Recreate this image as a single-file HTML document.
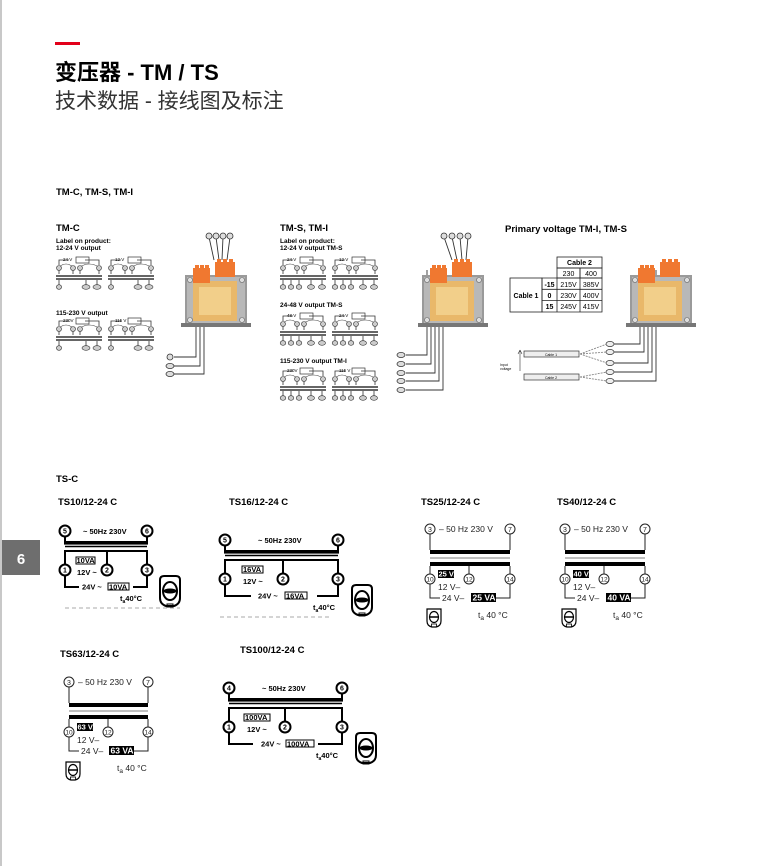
<!DOCTYPE html>
<html><head><meta charset="utf-8"><style>
html,body{margin:0;padding:0;background:#fff;}
svg{display:block;}
text{font-family:"Liberation Sans","Noto Sans CJK SC",sans-serif;}
</style></head><body>
<svg width="759" height="866" viewBox="0 0 759 866" xmlns="http://www.w3.org/2000/svg">
<defs>
<g id="xf">
 <!-- transformer photo, origin = body top-left (185,275) -->
 <rect x="0" y="0" width="62" height="50" fill="#9a9a9a"/>
 <rect x="2" y="2" width="58" height="46" fill="#b8b8b8"/>
 <rect x="8" y="6" width="44" height="40" fill="#e9b86a"/>
 <rect x="14" y="12" width="32" height="28" fill="#f2cf8a"/>
 <rect x="-4" y="48" width="70" height="4" fill="#777"/>
 <circle cx="5" cy="5" r="2.5" fill="#ddd" stroke="#666" stroke-width=".6"/>
 <circle cx="57" cy="5" r="2.5" fill="#ddd" stroke="#666" stroke-width=".6"/>
 <circle cx="5" cy="45" r="2.5" fill="#ddd" stroke="#666" stroke-width=".6"/>
 <circle cx="57" cy="45" r="2.5" fill="#ddd" stroke="#666" stroke-width=".6"/>
 <rect x="8" y="-7" width="17" height="15" fill="#f07830"/>
 <rect x="10" y="-10" width="4" height="5" fill="#f07830"/>
 <rect x="15" y="-10" width="4" height="5" fill="#f07830"/>
 <rect x="20" y="-10" width="4" height="5" fill="#f07830"/>
 <rect x="30" y="-13" width="20" height="15" fill="#f07830"/>
 <rect x="32" y="-16" width="4" height="5" fill="#f07830"/>
 <rect x="38" y="-16" width="4" height="5" fill="#f07830"/>
 <rect x="44" y="-16" width="4" height="5" fill="#f07830"/>
</g>
<g id="sd" fill="none" stroke="#333" stroke-width=".8">
 <!-- small label diagram, 46 wide -->
 <path d="M3 10V5H13M29 5H43V10"/>
 <rect x="20" y="2" width="13" height="6" stroke-width=".7"/>
 <path d="M3 12Q10 6 17 12M24 12Q33 6 43 12" stroke-width=".6"/>
 <g fill="#ccc" stroke-width=".6"><circle cx="3" cy="13" r="2.5"/><circle cx="17" cy="13" r="2.5"/><circle cx="24" cy="13" r="2.5"/><circle cx="43" cy="13" r="2.5"/>
 <ellipse cx="3" cy="32" rx="2.6" ry="2.3"/><ellipse cx="30" cy="32" rx="4" ry="2.3"/><ellipse cx="41" cy="32" rx="4" ry="2.3"/></g>
 <path d="M3 15.5V19M43 15.5V19M17 15.5V19M24 15.5V19"/>
 <path d="M0 21H46M0 24H46" stroke-width="1.6"/>
 <path d="M3 25V29.5M30 25V29.5M41 25V29.5"/>
</g>
<g id="sd5" fill="none" stroke="#333" stroke-width=".8">
 <path d="M3 10V5H13M29 5H43V10"/>
 <rect x="20" y="2" width="13" height="6" stroke-width=".7"/>
 <path d="M3 12Q10 6 17 12M24 12Q33 6 43 12" stroke-width=".6"/>
 <g fill="#ccc" stroke-width=".6"><circle cx="3" cy="13" r="2.5"/><circle cx="17" cy="13" r="2.5"/><circle cx="24" cy="13" r="2.5"/><circle cx="43" cy="13" r="2.5"/>
 <ellipse cx="3" cy="32" rx="2.8" ry="2.3"/><ellipse cx="11" cy="32" rx="2.8" ry="2.3"/><ellipse cx="19" cy="32" rx="2.8" ry="2.3"/><ellipse cx="31" cy="32" rx="3.5" ry="2.3"/><ellipse cx="42" cy="32" rx="3.5" ry="2.3"/></g>
 <path d="M3 15.5V19M43 15.5V19M17 15.5V19M24 15.5V19"/>
 <path d="M0 21H46M0 24H46" stroke-width="1.6"/>
 <path d="M3 25V29.5M11 25V29.5M19 25V29.5M31 25V29.5M42 25V29.5"/>
</g>
<g id="icoA" fill="none" stroke="#000">
 <path d="M2 4Q2 0 6 0H18Q22 0 22 4V22Q22 28 16 30H8Q2 28 2 22Z" stroke-width="2"/>
 <ellipse cx="12" cy="15" rx="7" ry="9" stroke-width="2"/>
 <ellipse cx="12" cy="15" rx="6" ry="2" fill="#000"/>
 <rect x="9" y="28" width="6" height="3" stroke-width="1"/>
</g>
<g id="icoB" fill="none" stroke="#000" stroke-width="1.2">
 <path d="M1 2H15V14Q15 19 10 20H6Q1 19 1 14Z"/>
 <ellipse cx="8" cy="10" rx="4.5" ry="5.5"/>
 <path d="M3 10H13" stroke-width="1.5"/>
 <rect x="5.5" y="17" width="5" height="3" stroke-width=".8"/>
</g>
</defs>

<!-- page chrome -->
<rect x="0" y="0" width="2" height="866" fill="#c8c8c8"/>
<rect x="2" y="540" width="38" height="35" fill="#6e6e6e"/>
<text x="21" y="564" font-size="15" font-weight="bold" fill="#fff" text-anchor="middle">6</text>
<rect x="55" y="42" width="25" height="3" fill="#e2001a"/>
<text x="55" y="80" font-size="22" font-weight="bold" fill="#000">变压器 - TM / TS</text>
<text x="55" y="108" font-size="21" fill="#333">技术数据 - 接线图及标注</text>

<text x="56" y="195" font-size="9.5" font-weight="bold">TM-C, TM-S, TM-I</text>
<text x="56" y="231" font-size="9.5" font-weight="bold">TM-C</text>
<text x="56" y="243" font-size="6.5" font-weight="bold">Label on product:</text>
<text x="56" y="250" font-size="6.5" font-weight="bold">12-24 V output</text>
<use href="#sd" x="56" y="255"/><use href="#sd" x="108" y="255"/>
<text x="63" y="261" font-size="4.5">24 V</text><text x="115" y="261" font-size="4.5">12 V</text>
<text x="56" y="315" font-size="6.5" font-weight="bold">115-230 V output</text>
<use href="#sd" x="56" y="316"/><use href="#sd" x="108" y="316"/>
<text x="63" y="322" font-size="4.5">230V</text><text x="115" y="322" font-size="4.5">115 V</text>

<!-- TM-C photo + wires -->
<g fill="none" stroke="#333" stroke-width=".9">
 <path d="M209 237L214 260M216 237L219 260M223 237L222 260M230 237L227 260"/>
 <path d="M196 270V357H174M200 270V366H174M204 270V374H174"/>
</g>
<use href="#xf" x="185" y="275"/>
<g fill="#ddd" stroke="#333" stroke-width=".8">
 <circle cx="209" cy="236" r="3"/><circle cx="216" cy="236" r="3"/><circle cx="223" cy="236" r="3"/><circle cx="230" cy="236" r="3"/>
 <circle cx="170" cy="357" r="3"/><ellipse cx="170" cy="366" rx="4" ry="2.6"/><ellipse cx="170" cy="374" rx="4" ry="2.6"/>
</g>

<text x="280" y="231" font-size="9.5" font-weight="bold">TM-S, TM-I</text>
<text x="280" y="243" font-size="6.5" font-weight="bold">Label on product:</text>
<text x="280" y="250" font-size="6.5" font-weight="bold">12-24 V output TM-S</text>
<use href="#sd5" x="280" y="255"/><use href="#sd5" x="332" y="255"/>
<text x="287" y="261" font-size="4.5">24 V</text><text x="339" y="261" font-size="4.5">12 V</text>
<text x="280" y="307" font-size="6.5" font-weight="bold">24-48 V output TM-S</text>
<use href="#sd5" x="280" y="311"/><use href="#sd5" x="332" y="311"/>
<text x="287" y="317" font-size="4.5">48 V</text><text x="339" y="317" font-size="4.5">24 V</text>
<text x="280" y="363" font-size="6.5" font-weight="bold">115-230 V output TM-I</text>
<use href="#sd5" x="280" y="366"/><use href="#sd5" x="332" y="366"/>
<text x="287" y="372" font-size="4.5">230V</text><text x="339" y="372" font-size="4.5">115 V</text>

<g fill="none" stroke="#333" stroke-width=".9">
 <path d="M444 237L452 260M452 237L457 260M460 237L462 260M468 237L466 260"/>
 <path d="M427 270V355H406M431 270V364H406M435 270V373H406M439 270V381H406M443 270V390H406"/>
</g>
<use href="#xf" x="422" y="275"/>
<g fill="#ddd" stroke="#333" stroke-width=".8">
 <circle cx="444" cy="236" r="3"/><circle cx="452" cy="236" r="3"/><circle cx="460" cy="236" r="3"/><circle cx="468" cy="236" r="3"/>
 <ellipse cx="401" cy="355" rx="4" ry="2.6"/><ellipse cx="401" cy="364" rx="4" ry="2.6"/><ellipse cx="401" cy="373" rx="4" ry="2.6"/><ellipse cx="401" cy="381" rx="4" ry="2.6"/><ellipse cx="401" cy="390" rx="4" ry="2.6"/>
</g>

<!-- Primary voltage -->
<text x="505" y="232" font-size="9.5" font-weight="bold">Primary voltage TM-I, TM-S</text>
<g fill="none" stroke="#222" stroke-width=".8">
 <rect x="557" y="257" width="45" height="11"/>
 <rect x="557" y="268" width="23" height="10"/><rect x="580" y="268" width="22" height="10"/>
 <rect x="510" y="278" width="32" height="34"/>
 <path d="M542 278H602V312H542ZM542 289.3H602M542 300.6H602M557 278V312M580 278V312"/>
</g>
<g font-size="7" text-anchor="middle">
 <text x="579.5" y="265" font-weight="bold">Cable 2</text>
 <text x="568.5" y="276">230</text><text x="591" y="276">400</text>
 <text x="526" y="298" font-weight="bold">Cable 1</text>
 <text x="549.5" y="287" font-weight="bold">-15</text><text x="549.5" y="298" font-weight="bold">0</text><text x="549.5" y="309" font-weight="bold">15</text>
 <text x="568.5" y="287">215V</text><text x="591" y="287">385V</text>
 <text x="568.5" y="298">230V</text><text x="591" y="298">400V</text>
 <text x="568.5" y="309">245V</text><text x="591" y="309">415V</text>
</g>
<g fill="none" stroke="#333" stroke-width=".9">
 <path d="M640 270V344H614M644 270V352H614M648 270V363H614M652 270V372H614M656 270V381H614"/>
 <path d="M580 354L607 344M580 354L607 352M580 354L607 363M580 377L607 372M580 377L607 381" stroke="#888" stroke-dasharray="2 1"/>
 <path d="M520 350V371M520 350L518 354M520 350L522 354" stroke-width=".6"/>
</g>
<use href="#xf" x="630" y="275"/>
<g fill="#eee" stroke="#333" stroke-width=".7">
 <rect x="524" y="351" width="55" height="6"/><rect x="524" y="374" width="55" height="6"/>
 <ellipse cx="610" cy="344" rx="4" ry="2.6"/><ellipse cx="610" cy="352" rx="4" ry="2.6"/><ellipse cx="610" cy="363" rx="4" ry="2.6"/><ellipse cx="610" cy="372" rx="4" ry="2.6"/><ellipse cx="610" cy="381" rx="4" ry="2.6"/>
</g>
<text x="551" y="356" font-size="3.5" text-anchor="middle">Cable 1</text>
<text x="551" y="379" font-size="3.5" text-anchor="middle">Cable 2</text>
<text x="500" y="366" font-size="3.5">Input</text><text x="500" y="370" font-size="3.5">voltage</text>

<!-- TS-C -->
<text x="56" y="482" font-size="9.5" font-weight="bold">TS-C</text>
<g font-size="9.5" font-weight="bold">
<text x="58" y="505">TS10/12-24 C</text><text x="229" y="505">TS16/12-24 C</text>
<text x="421" y="505">TS25/12-24 C</text><text x="557" y="505">TS40/12-24 C</text>
<text x="60" y="657">TS63/12-24 C</text><text x="240" y="653">TS100/12-24 C</text>
</g>

<!-- Type A: TS10 -->
<g transform="translate(65,531)">
 <g fill="none" stroke="#000" stroke-width="2">
  <circle cx="0" cy="0" r="5.5"/><circle cx="82" cy="0" r="5.5"/>
  <path d="M0 5.5V11M82 5.5V11"/><rect x="0" y="11" width="82" height="1.6" fill="#000"/>
  <path d="M0 15.5H82" stroke-width="1.5"/>
  <path d="M0 33.5V20H82V33.5M42 20V33.5"/>
  <circle cx="0" cy="39" r="5.5"/><circle cx="42" cy="39" r="5.5"/><circle cx="82" cy="39" r="5.5"/>
  <path d="M0 44.5V56H14M82 44.5V56H68"/>
  <rect x="11" y="26" width="19" height="7" stroke-width="1"/><rect x="43" y="52" width="21" height="7" stroke-width="1"/>
 </g>
 <g font-size="7.5" font-weight="bold">
  <text x="0" y="2.7" text-anchor="middle" font-size="7">5</text><text x="82" y="2.7" text-anchor="middle" font-size="7">6</text>
  <text x="0" y="41.7" text-anchor="middle" font-size="7">1</text><text x="42" y="41.7" text-anchor="middle" font-size="7">2</text><text x="82" y="41.7" text-anchor="middle" font-size="7">3</text>
  <text x="18" y="3">~ 50Hz  230V</text><text x="11.5" y="32">10VA</text><text x="12" y="44">12V ~</text>
  <text x="17" y="58.5">24V ~</text><text x="44" y="58.5">10VA</text><text x="55" y="70">t<tspan font-size="5" dy="2">a</tspan><tspan dy="-2">40°C</tspan></text>
 </g>
 <use href="#icoA" x="93" y="45"/>
 <path d="M0 77H115" stroke="#aaa" stroke-width="1" stroke-dasharray="4 3"/>
</g>
<!-- TS16 -->
<g transform="translate(225,540)">
 <g fill="none" stroke="#000" stroke-width="2">
  <circle cx="0" cy="0" r="5.5"/><circle cx="113" cy="0" r="5.5"/>
  <path d="M0 5.5V11M113 5.5V11"/><rect x="0" y="11" width="113" height="1.6" fill="#000"/>
  <path d="M0 15.5H113" stroke-width="1.5"/>
  <path d="M0 33.5V20H113V33.5M58 20V33.5"/>
  <circle cx="0" cy="39" r="5.5"/><circle cx="58" cy="39" r="5.5"/><circle cx="113" cy="39" r="5.5"/>
  <path d="M0 44.5V56H26M113 44.5V56H92"/>
  <rect x="17" y="26" width="21" height="7" stroke-width="1"/><rect x="60" y="52" width="22" height="7" stroke-width="1"/>
 </g>
 <g font-size="7.5" font-weight="bold">
  <text x="0" y="2.7" text-anchor="middle" font-size="7">5</text><text x="113" y="2.7" text-anchor="middle" font-size="7">6</text>
  <text x="0" y="41.7" text-anchor="middle" font-size="7">1</text><text x="58" y="41.7" text-anchor="middle" font-size="7">2</text><text x="113" y="41.7" text-anchor="middle" font-size="7">3</text>
  <text x="33" y="3">~ 50Hz  230V</text><text x="18" y="32">16VA</text><text x="18" y="44">12V ~</text>
  <text x="33" y="58.5">24V ~</text><text x="61" y="58.5">16VA</text><text x="88" y="70">t<tspan font-size="5" dy="2">a</tspan><tspan dy="-2">40°C</tspan></text>
 </g>
 <use href="#icoA" x="125" y="45"/>
 <path d="M-5 77H107" stroke="#aaa" stroke-width="1" stroke-dasharray="4 3"/>
</g>
<!-- TS100 -->
<g transform="translate(229,688)">
 <g fill="none" stroke="#000" stroke-width="2">
  <circle cx="0" cy="0" r="5.5"/><circle cx="113" cy="0" r="5.5"/>
  <path d="M0 5.5V11M113 5.5V11"/><rect x="0" y="11" width="113" height="1.6" fill="#000"/>
  <path d="M0 15.5H113" stroke-width="1.5"/>
  <path d="M0 33.5V20H113V33.5M56 20V33.5"/>
  <circle cx="0" cy="39" r="5.5"/><circle cx="56" cy="39" r="5.5"/><circle cx="113" cy="39" r="5.5"/>
  <path d="M0 44.5V56H24M113 44.5V56H89"/>
  <rect x="15" y="26" width="26" height="7" stroke-width="1"/><rect x="57" y="52" width="28" height="7" stroke-width="1"/>
 </g>
 <g font-size="7.5" font-weight="bold">
  <text x="0" y="2.7" text-anchor="middle" font-size="7">4</text><text x="113" y="2.7" text-anchor="middle" font-size="7">6</text>
  <text x="0" y="41.7" text-anchor="middle" font-size="7">1</text><text x="56" y="41.7" text-anchor="middle" font-size="7">2</text><text x="113" y="41.7" text-anchor="middle" font-size="7">3</text>
  <text x="33" y="3">~ 50Hz  230V</text><text x="16" y="32">100VA</text><text x="18" y="44">12V ~</text>
  <text x="32" y="58.5">24V ~</text><text x="58" y="58.5">100VA</text><text x="87" y="70">t<tspan font-size="5" dy="2">a</tspan><tspan dy="-2">40°C</tspan></text>
 </g>
 <use href="#icoA" x="125" y="45"/>
</g>

<!-- Type B: TS25 -->
<g transform="translate(430,529)">
 <g fill="none" stroke="#222" stroke-width="1">
  <circle cx="0" cy="0" r="5"/><circle cx="80" cy="0" r="5"/>
  <path d="M0 5V21M80 5V21"/>
  <path d="M0 29H80" stroke="#999" stroke-width="1.2"/>
  <path d="M0 37V45M80 37V45M39 37V45"/>
  <circle cx="0" cy="50" r="5"/><circle cx="39" cy="50" r="5"/><circle cx="80" cy="50" r="5"/>
  <path d="M0 55V69H10M80 55V69H65"/>
 </g>
 <rect x="0" y="21" width="80" height="4" fill="#000"/><rect x="0" y="33" width="80" height="4" fill="#000"/>
 <rect x="8" y="41" width="16" height="8" fill="#000"/><rect x="41" y="64" width="25" height="9" fill="#000"/>
 <g font-size="8.5" fill="#222">
  <text x="0" y="3" text-anchor="middle" font-size="7">3</text><text x="80" y="3" text-anchor="middle" font-size="7">7</text>
  <text x="0" y="52.5" text-anchor="middle" font-size="6.5">10</text><text x="39" y="52.5" text-anchor="middle" font-size="6.5">12</text><text x="80" y="52.5" text-anchor="middle" font-size="6.5">14</text>
  <text x="9" y="3">– 50 Hz   230 V</text>
  <text x="8.5" y="47.5" fill="#fff" font-weight="bold" font-size="7.5">25 VA</text>
  <text x="8" y="61">12 V–</text><text x="12" y="72">24 V–</text>
  <text x="42.5" y="71.5" fill="#fff" font-weight="bold">25 VA</text>
  <text x="48" y="89">t<tspan font-size="6.5" dy="2">a</tspan><tspan dy="-2"> 40 °C</tspan></text>
 </g>
 <use href="#icoB" x="-4" y="78"/>
</g>
<!-- TS40 -->
<g transform="translate(565,529)">
 <g fill="none" stroke="#222" stroke-width="1">
  <circle cx="0" cy="0" r="5"/><circle cx="80" cy="0" r="5"/>
  <path d="M0 5V21M80 5V21"/>
  <path d="M0 29H80" stroke="#999" stroke-width="1.2"/>
  <path d="M0 37V45M80 37V45M39 37V45"/>
  <circle cx="0" cy="50" r="5"/><circle cx="39" cy="50" r="5"/><circle cx="80" cy="50" r="5"/>
  <path d="M0 55V69H10M80 55V69H65"/>
 </g>
 <rect x="0" y="21" width="80" height="4" fill="#000"/><rect x="0" y="33" width="80" height="4" fill="#000"/>
 <rect x="8" y="41" width="16" height="8" fill="#000"/><rect x="41" y="64" width="25" height="9" fill="#000"/>
 <g font-size="8.5" fill="#222">
  <text x="0" y="3" text-anchor="middle" font-size="7">3</text><text x="80" y="3" text-anchor="middle" font-size="7">7</text>
  <text x="0" y="52.5" text-anchor="middle" font-size="6.5">10</text><text x="39" y="52.5" text-anchor="middle" font-size="6.5">12</text><text x="80" y="52.5" text-anchor="middle" font-size="6.5">14</text>
  <text x="9" y="3">– 50 Hz   230 V</text>
  <text x="8.5" y="47.5" fill="#fff" font-weight="bold" font-size="7.5">40 VA</text>
  <text x="8" y="61">12 V–</text><text x="12" y="72">24 V–</text>
  <text x="42.5" y="71.5" fill="#fff" font-weight="bold">40 VA</text>
  <text x="48" y="89">t<tspan font-size="6.5" dy="2">a</tspan><tspan dy="-2"> 40 °C</tspan></text>
 </g>
 <use href="#icoB" x="-4" y="78"/>
</g>
<!-- TS63 -->
<g transform="translate(69,682)">
 <g fill="none" stroke="#222" stroke-width="1">
  <circle cx="0" cy="0" r="5"/><circle cx="79" cy="0" r="5"/>
  <path d="M0 5V21M79 5V21"/>
  <path d="M0 29H79" stroke="#999" stroke-width="1.2"/>
  <path d="M0 37V45M79 37V45M39 37V45"/>
  <circle cx="0" cy="50" r="5"/><circle cx="39" cy="50" r="5"/><circle cx="79" cy="50" r="5"/>
  <path d="M0 55V69H10M79 55V69H64"/>
 </g>
 <rect x="0" y="21" width="79" height="4" fill="#000"/><rect x="0" y="33" width="79" height="4" fill="#000"/>
 <rect x="8" y="41" width="16" height="8" fill="#000"/><rect x="40" y="64" width="25" height="9" fill="#000"/>
 <g font-size="8.5" fill="#222">
  <text x="0" y="3" text-anchor="middle" font-size="7">3</text><text x="79" y="3" text-anchor="middle" font-size="7">7</text>
  <text x="0" y="52.5" text-anchor="middle" font-size="6.5">10</text><text x="39" y="52.5" text-anchor="middle" font-size="6.5">12</text><text x="79" y="52.5" text-anchor="middle" font-size="6.5">14</text>
  <text x="9" y="3">– 50 Hz   230 V</text>
  <text x="8.5" y="47.5" fill="#fff" font-weight="bold" font-size="7.5">63 VA</text>
  <text x="8" y="61">12 V–</text><text x="12" y="72">24 V–</text>
  <text x="41.5" y="71.5" fill="#fff" font-weight="bold">63 VA</text>
  <text x="48" y="89">t<tspan font-size="6.5" dy="2">a</tspan><tspan dy="-2"> 40 °C</tspan></text>
 </g>
 <use href="#icoB" x="-4" y="78"/>
</g>
</svg>
</body></html>
